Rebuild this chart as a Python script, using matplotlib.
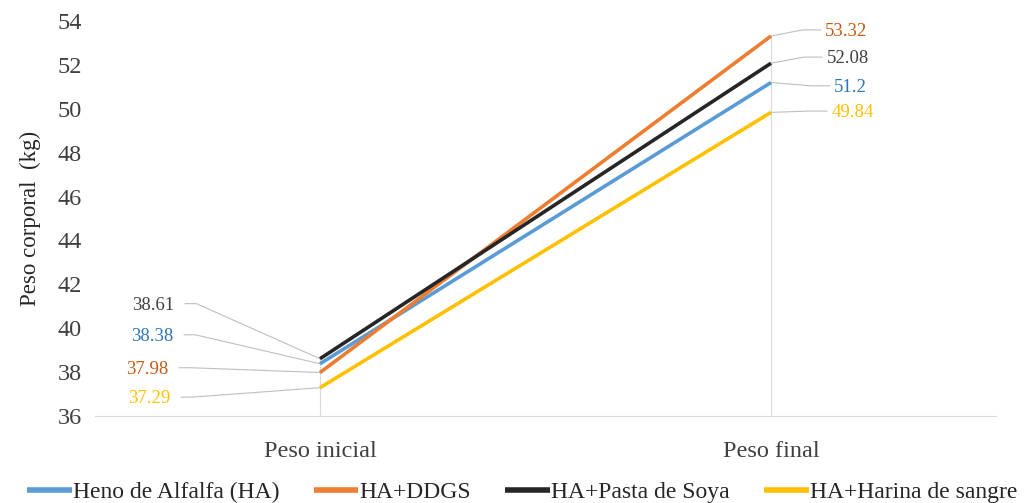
import matplotlib
matplotlib.use("Agg")
import matplotlib.pyplot as plt

categories = ["Peso inicial", "Peso final"]
series_names = ["Heno de Alfalfa (HA)", "HA+DDGS", "HA+Pasta de Soya", "HA+Harina de sangre"]
heno = [38.38, 51.2]
ddgs = [37.98, 53.32]
soya = [38.61, 52.08]
sangre = [37.29, 49.84]
values = [heno, ddgs, soya, sangre]
line_colors = ["#5B9BD5", "#ED7D31", "#262626", "#FFC000"]
label_colors = ["#2E75B6", "#C55A11", "#404040", "#FFC000"]
value_texts = [["38.38", "51.2"], ["37.98", "53.32"], ["38.61", "52.08"], ["37.29", "49.84"]]

# label anchor positions (x in category units, y in data units): (left, right)
left_lab = {0: (-0.326, 39.7), 1: (-0.337, 38.2), 2: (-0.324, 41.12), 3: (-0.333, 36.86)}
right_lab = {0: (0.14, 51.05), 1: (0.12, 53.6), 2: (0.123, 52.36), 3: (0.134, 49.9)}

plt.rcParams['font.family'] = ['Liberation Serif', 'DejaVu Serif']
fig = plt.figure(figsize=(10.24, 5.03), dpi=100)
ax = fig.add_axes([0.0923, 0.173, 0.8808, 0.785])

x = list(range(len(categories)))
for i, vals in enumerate(values):
    ax.plot(x, vals, color=line_colors[i], lw=2.6, label=series_names[i], solid_capstyle='butt', zorder=3)

# drop lines
for xi in x:
    top = max(v[xi] for v in values)
    ax.plot([xi, xi], [36, top], color="#D9D9D9", lw=0.8, zorder=1)

grey = "#BFBFBF"
for i, vals in enumerate(values):
    lx, ly = left_lab[i]
    ax.plot([lx + 0.025, lx + 0.05, 0], [ly, ly, vals[0]], color=grey, lw=0.8, zorder=2)
    ax.text(lx, ly - 0.08, value_texts[i][0], color=label_colors[i], fontsize=13.5, ha='right', va='center')
    rx, ry = right_lab[i]
    ax.plot([1, 1 + rx - 0.05, 1 + rx - 0.01], [vals[1], ry, ry], color=grey, lw=0.8, zorder=2)
    ax.text(1 + rx, ry - 0.08, value_texts[i][1], color=label_colors[i], fontsize=13.5, ha='left', va='center')

ax.set_xlim(-0.5, 1.5)
ax.set_ylim(36, 54)
ax.set_yticks(range(36, 55, 2))
ax.set_xticks(x)
ax.set_xticklabels(categories)
ax.tick_params(axis='y', length=0, labelsize=17.5, labelcolor="#404040", pad=9)
ax.tick_params(axis='x', length=0, labelsize=17.5, labelcolor="#404040", pad=18)
for s in ['top', 'right', 'left']:
    ax.spines[s].set_visible(False)
ax.spines['bottom'].set_color("#D9D9D9")
ax.set_ylabel("Peso corporal  (kg)", fontsize=16.5, color="#262626", labelpad=12)

leg = fig.legend(loc='lower center', bbox_to_anchor=(0.51, -0.042), ncol=4, frameon=False,
                 fontsize=17, handlelength=1.9, handletextpad=0.05, columnspacing=1.45)
for t in leg.get_texts():
    t.set_color("#262626")
for h in leg.get_lines():
    h.set_linewidth(4)

fig.savefig("out.png", dpi=100)
